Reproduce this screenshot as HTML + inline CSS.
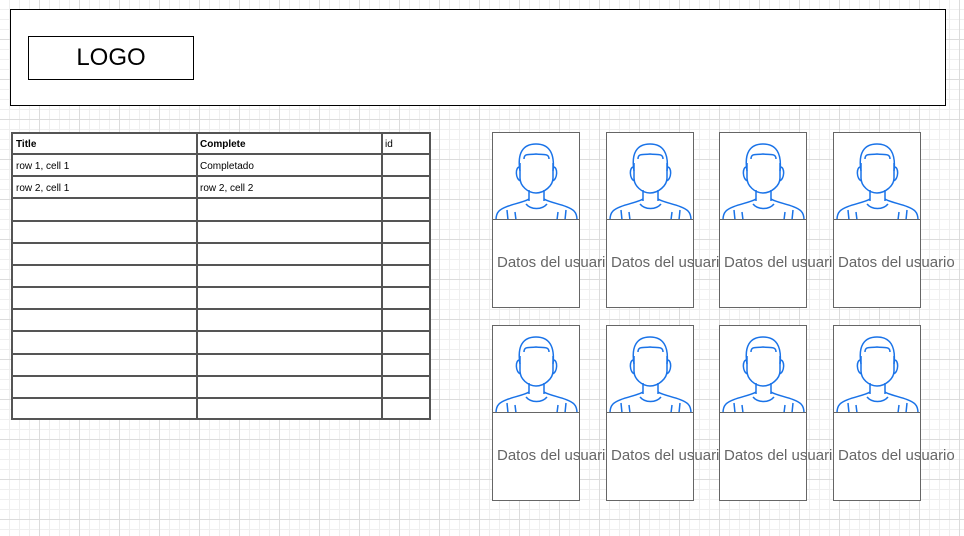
<!DOCTYPE html>
<html><head><style>
body{margin:0;width:964px;height:536px;overflow:hidden;background-color:#fff;
background-image:linear-gradient(#dcdcdc 1px,transparent 1px),linear-gradient(90deg,#dcdcdc 1px,transparent 1px),linear-gradient(#efefef 1px,transparent 1px),linear-gradient(90deg,#efefef 1px,transparent 1px);
background-size:40px 40px,40px 40px,10px 10px,10px 10px;background-position:-1px -1px;
font-family:"Liberation Sans",Arial,sans-serif;position:relative}
.hdr{position:absolute;left:10px;top:9px;width:934px;height:95px;border:1.5px solid #000;background:#fff}
.logo{position:absolute;left:28px;top:36px;width:164px;height:42px;border:1.5px solid #000;background:#fff;font-size:24px;text-align:center;line-height:42px}
.tbl{position:absolute;left:11px;top:132px;width:420px;height:288px;background:#fff;border:2px solid #555;box-sizing:border-box}
.h{position:absolute;left:0;width:420px;border-top:2px solid #555}
.v{position:absolute;top:0;height:288px;border-left:2px solid #555}
.t{position:absolute;font-size:10px;white-space:nowrap}
.card{position:absolute;width:86px;height:174px;border:1.5px solid #666;background:#fff}
.card svg{position:absolute;left:0;top:0}
.card .ln{position:absolute;left:0;top:86px;width:86px;border-top:1.5px solid #666}
.card span{position:absolute;left:4px;top:121px;white-space:nowrap;font-size:15px;color:#666}
</style></head><body>
<div class="hdr"></div>
<div class="logo">LOGO</div>
<div class="tbl" id="tbl"></div>
<div id="cards"></div>
<script>
var t='',rh=288/13;
for(var i=1;i<13;i++)t+='<div class="h" style="top:'+(Math.round(i*rh)-3)+'px;left:-2px"></div>';
t+='<div class="v" style="left:183px;top:-2px"></div><div class="v" style="left:368px;top:-2px"></div>';
var txt=[[0,0,'<b>Title</b>'],[0,1,'<b>Complete</b>'],[0,2,'id'],[1,0,'row 1, cell 1'],[1,1,'Completado'],[2,0,'row 2, cell 1'],[2,1,'row 2, cell 2']];
var cx=[3,187,372];
txt.forEach(function(a){t+='<div class="t" style="left:'+cx[a[1]]+'px;top:'+(Math.round(a[0]*rh)+5)+'px">'+a[2]+'</div>';});
document.getElementById('tbl').innerHTML=t;
var xs=[492,606,719,833],ys=[132,325],h='';
var svg='<svg width="87" height="87" viewBox="0 0 87 87" fill="none" stroke="#1a73e8" stroke-width="1.5"><path d="M27 38 C24 20 30 11 43 11 C56 11 62 20 60 38"/><path d="M31 26 C31 20 36 22 43 21 C50 22 56 20 56 26"/><path d="M27 30 L27 45 C27 53 35 60 43 60 C51 60 60 53 60 45 L60 30"/><path d="M27 34 C22 33 22 47 28 48 M60 34 C65 33 65 47 59 48"/><path d="M36 57 L36 68 M51 57 L51 68"/><path d="M36 66 C30 70 12 72 6 78 C3 81 3 85 3 87 M51 66 C57 70 75 72 81 78 C84 81 84 85 84 87"/><path d="M33 71 C38 77 49 77 54 71"/><path d="M14 77 L15 87 M22 79 L23 87 M65 79 L64 87 M73 77 L72 87"/></svg>';
ys.forEach(function(y){xs.forEach(function(x){h+='<div class="card" style="left:'+x+'px;top:'+y+'px">'+svg+'<div class="ln"></div><span>Datos del usuario</span></div>';});});
document.getElementById('cards').innerHTML=h;
</script>
</body></html>
